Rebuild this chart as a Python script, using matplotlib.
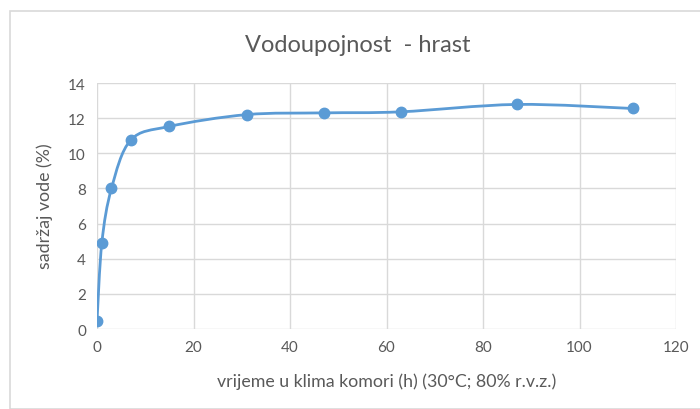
import matplotlib
matplotlib.use("Agg")
import matplotlib.pyplot as plt
from matplotlib.path import Path
from matplotlib.patches import PathPatch, Rectangle
import numpy as np

plt.rcParams['font.family'] = ['Lato', 'DejaVu Sans']

hours = [0, 1, 3, 7, 15, 31, 47, 63, 87, 111]
water = [0.45, 4.9, 8.0, 10.75, 11.53, 12.2, 12.3, 12.36, 12.78, 12.55]
title = "Vodoupojnost  - hrast"
xlabel = "vrijeme u klima komori (h) (30°C; 80% r.v.z.)"
ylabel = "sadržaj vode (%)"
xticks = [0, 20, 40, 60, 80, 100, 120]
yticks = [0, 2, 4, 6, 8, 10, 12, 14]

blue = "#5B9BD5"
text_gray = "#595959"
grid_gray = "#D9D9D9"

fig = plt.figure(figsize=(7, 4.1), dpi=100)
fig.patches.append(Rectangle((10/700, 0), 1, 1 - 12/410, transform=fig.transFigure,
                             fill=False, edgecolor="#D9D9D9", linewidth=1.2))
ax = fig.add_axes([97/700, 1 - 330/410, (676 - 97)/700, (330 - 84)/410])

# Excel-like smooth curve (cardinal spline as cubic Beziers)
pts = np.column_stack([hours, water]).astype(float)
n = len(pts)
verts = [tuple(pts[0])]
codes = [Path.MOVETO]
for i in range(n - 1):
    p0 = pts[i - 1] if i > 0 else pts[i]
    p1 = pts[i]
    p2 = pts[i + 1]
    p3 = pts[i + 2] if i + 2 < n else pts[i + 1]
    c1 = p1 + (p2 - p0) / 6.0
    c2 = p2 - (p3 - p1) / 6.0
    verts += [tuple(c1), tuple(c2), tuple(p2)]
    codes += [Path.CURVE4] * 3
ax.add_patch(PathPatch(Path(verts, codes), facecolor="none", edgecolor=blue,
                       linewidth=2.0, capstyle="round", zorder=3))
ax.plot(hours, water, linestyle="none", marker="o", markersize=7.5,
        color=blue, zorder=4)

ax.set_xlim(0, 120)
ax.set_ylim(0, 14)
ax.set_xticks(xticks)
ax.set_yticks(yticks)
ax.grid(True, color=grid_gray, linewidth=1.0)
ax.set_axisbelow(True)
for s in ax.spines.values():
    s.set_visible(False)
ax.tick_params(length=0, labelsize=11, colors=text_gray, pad=8)

fig.text(358/700, 1 - 45/410, title, ha="center", va="center",
         fontsize=17, color=text_gray)
fig.text(387/700, 1 - 382/410, xlabel, ha="center", va="center",
         fontsize=12.8, color=text_gray)
fig.text(45/700, 1 - 206/410, ylabel, ha="center", va="center",
         rotation=90, fontsize=12.8, color=text_gray)

fig.savefig("out.png", dpi=100)
